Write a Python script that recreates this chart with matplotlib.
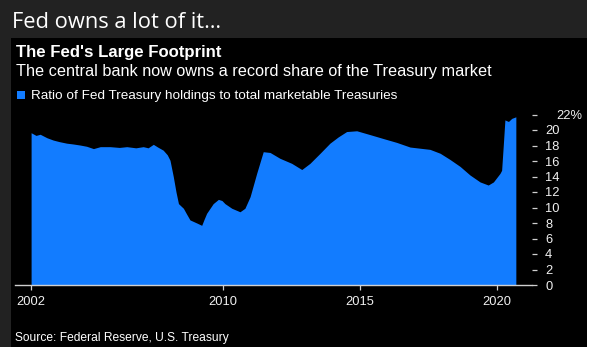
import matplotlib
matplotlib.use('Agg')
import matplotlib.pyplot as plt
from matplotlib.patches import Rectangle
from matplotlib.transforms import ScaledTranslation

# ---- data (decimal year, % of marketable Treasuries held by the Fed) ----
years = [2002.97, 2003.15, 2003.30, 2003.55, 2003.78, 2004.00, 2004.27, 2004.50,
         2004.76, 2005.00, 2005.25, 2005.50, 2005.86, 2006.20, 2006.47, 2006.80,
         2007.07, 2007.25, 2007.44, 2007.60, 2007.80, 2007.95, 2008.05, 2008.17,
         2008.27, 2008.36, 2008.54, 2008.65, 2008.78, 2009.03, 2009.21, 2009.30,
         2009.39, 2009.63, 2009.82, 2009.95, 2010.06, 2010.31, 2010.61, 2010.79,
         2010.98, 2011.22, 2011.46, 2011.71, 2012.07, 2012.50, 2012.87, 2013.17,
         2013.54, 2013.90, 2014.20, 2014.51, 2014.88, 2015.37, 2015.85, 2016.34,
         2016.83, 2017.56, 2017.93, 2018.29, 2018.66, 2019.02, 2019.39, 2019.69,
         2019.88, 2020.12, 2020.18, 2020.24, 2020.30, 2020.43, 2020.55, 2020.70]
ratio = [19.65, 19.30, 19.45, 19.00, 18.70, 18.50, 18.30, 18.20,
         18.06, 17.90, 17.60, 17.85, 17.85, 17.75, 17.85, 17.70,
         17.85, 17.70, 18.15, 17.80, 17.40, 16.80, 16.10, 14.00,
         12.00, 10.50, 9.90, 9.20, 8.40, 8.00, 7.70, 8.50,
         9.25, 10.50, 11.05, 10.90, 10.50, 9.90, 9.45, 9.90,
         11.40, 14.40, 17.20, 17.10, 16.35, 15.70, 14.90, 15.70,
         17.00, 18.30, 19.10, 19.80, 19.90, 19.40, 18.90, 18.40,
         17.80, 17.50, 17.00, 16.20, 15.30, 14.20, 13.30, 12.90,
         13.30, 14.40, 14.80, 18.00, 21.30, 21.10, 21.50, 21.70]

xtick_pos = [2002.97, 2010, 2015, 2020]
xtick_labels = ['2002', '2010', '2015', '2020']
ytick_values = [0, 2, 4, 6, 8, 10, 12, 14, 16, 18, 20, 22]
ytick_labels = ['0', '2', '4', '6', '8', '10', '12', '14', '16', '18', '20', '22%']

header = 'Fed owns a lot of it\u2026'
title = "The Fed's Large Footprint"
subtitle = 'The central bank now owns a record share of the Treasury market'
legend_label = 'Ratio of Fed Treasury holdings to total marketable Treasuries'
source = 'Source: Federal Reserve, U.S. Treasury'

BLUE = '#127cff'
AXIS = '#cfcfcf'

W, H = 593, 355
plt.rcParams['font.family'] = ['Liberation Sans', 'DejaVu Sans']
fig = plt.figure(figsize=(W / 100, H / 100), dpi=100, facecolor='white')


def fx(x):
    return x / W


def fy(y):
    return 1 - y / H


# backgrounds
fig.patches.append(Rectangle((0, fy(347)), fx(587), 347 / H, transform=fig.transFigure,
                             facecolor='#222222', edgecolor='none', zorder=-3))
fig.patches.append(Rectangle((fx(10.5), fy(347)), fx(587 - 10.5), (347 - 38) / H,
                             transform=fig.transFigure, facecolor='black',
                             edgecolor='none', zorder=-2))
# legend swatch
fig.patches.append(Rectangle((fx(17), fy(99.3)), fx(8), 8.3 / H, transform=fig.transFigure,
                             facecolor=BLUE, edgecolor='none', zorder=2))

renderer = fig.canvas.get_renderer()


def fit_text(x, y, s, width, **kw):
    t = fig.text(fx(x), fy(y), s, va='baseline', ha='left', fontsize=10, color='white', **kw)
    w = t.get_window_extent(renderer).width
    t.set_fontsize(10 * width / w)
    return t


fit_text(11.5, 28, header, 209, family=['Open Sans', 'DejaVu Sans'])
fit_text(16, 56.7, title, 206, fontweight='bold')
fit_text(16, 76, subtitle, 478)
fit_text(31, 99.3, legend_label, 366)
fit_text(15, 341.5, source, 214)

# ---- chart ----
ax = fig.add_axes([fx(15), fy(285), fx(532 - 15), (285 - 114.5) / H])
ax.set_facecolor('none')
ax.fill_between(years, ratio, 0, color=BLUE, linewidth=0)
ax.set_xlim(2002.381, 2021.291)
ax.set_ylim(0, 22)

for s in ['top', 'left', 'right']:
    ax.spines[s].set_visible(False)
ax.spines['bottom'].set_color(AXIS)
ax.spines['bottom'].set_linewidth(1.0)

ax.set_xticks(xtick_pos)
ax.set_xticklabels(xtick_labels)
ax.yaxis.tick_right()
ax.set_yticks(ytick_values)
ax.set_yticklabels(ytick_labels)
ax.tick_params(axis='x', direction='out', length=3.6, width=0.9, color=AXIS,
               pad=4.5, labelsize=9.3, labelcolor='#f0f0f0')
ax.tick_params(axis='y', direction='out', length=3.6, width=0.9, color=AXIS,
               pad=5.8, labelsize=9.3, labelcolor='#f0f0f0', left=False, right=True,
               labelleft=False, labelright=True)

top_lbl = ax.get_yticklabels()[-1]
top_lbl.set_transform(top_lbl.get_transform() +
                      ScaledTranslation(11 / 100, 0, fig.dpi_scale_trans))

fig.savefig('out.png', dpi=100, facecolor=fig.get_facecolor())
